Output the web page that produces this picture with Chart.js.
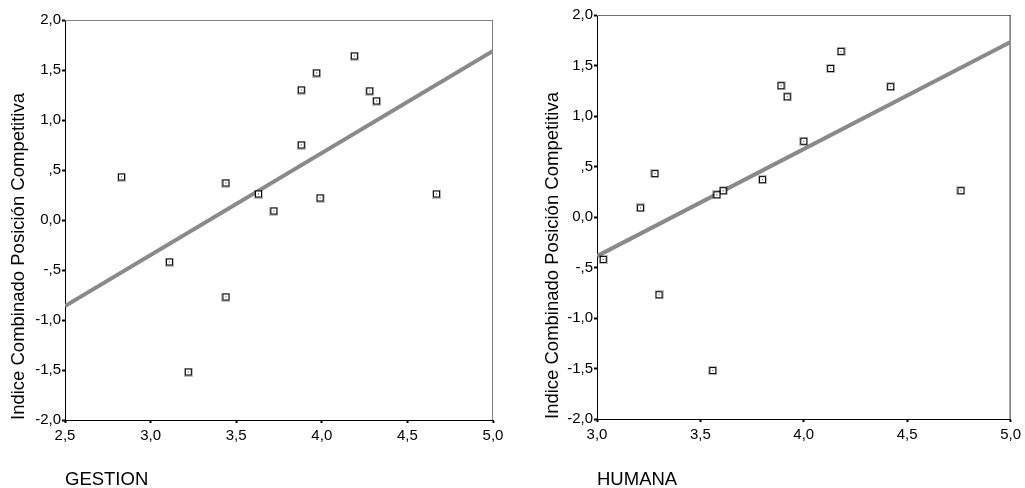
<!DOCTYPE html>
<html lang="es">
<head>
<meta charset="utf-8">
<title>Indice Combinado Posición Competitiva</title>
<script src="https://cdn.jsdelivr.net/npm/chart.js@4.4.1/dist/chart.umd.min.js"></script>
<style>
  html, body { margin: 0; padding: 0; background: #fff; }
  #wrap { position: relative; width: 1025px; height: 488px; overflow: hidden; }
  canvas { position: absolute; top: 0; }
  #cvGestion { left: 0; }
  #cvHumana { left: 512px; }
</style>
</head>
<body>
<div id="wrap">
  <canvas id="cvGestion" width="512" height="488"></canvas>
  <canvas id="cvHumana" width="513" height="488"></canvas>
</div>
<script>
// Índice combinado de posición competitiva por caso
const indice  = [0.43, -0.42, -1.52, 0.37, -0.77, 0.26, 0.09, 1.30, 0.75, 1.47, 0.22, 1.64, 1.29, 1.19, 0.26];
// Puntuaciones de cada caso en las dos dimensiones
const gestion = [2.83, 3.11, 3.22, 3.44, 3.44, 3.63, 3.72, 3.88, 3.88, 3.97, 3.99, 4.19, 4.28, 4.32, 4.67];
const humana  = [3.28, 3.03, 3.56, 3.80, 3.30, 3.61, 3.21, 3.89, 4.00, 4.13, 3.58, 4.18, 4.42, 3.92, 4.76];

const yTicks = [-2, -1.5, -1, -0.5, 0, 0.5, 1, 1.5, 2];
const gestionTicks = [2.5, 3.0, 3.5, 4.0, 4.5, 5.0];
const humanaTicks = [3.0, 3.5, 4.0, 4.5, 5.0];
const yTitle = 'Indice Combinado Posición Competitiva';

const FONT = "'Liberation Sans', Arial, Helvetica, sans-serif";

// 1,5  ,5  0,0  -,5  -1,0 ...
function fmt(v) {
    let s = v.toFixed(1).replace('.', ',');
    if (v !== 0 && Math.abs(v) < 1) s = s.replace('0,', ',');
    return s;
}

// least squares fit y = a + b*x
function fitLine(xs, ys) {
    const n = xs.length;
    const mx = xs.reduce((a, b) => a + b, 0) / n;
    const my = ys.reduce((a, b) => a + b, 0) / n;
    let sxy = 0, sxx = 0;
    for (let i = 0; i < n; i++) {
        sxy += (xs[i] - mx) * (ys[i] - my);
        sxx += (xs[i] - mx) * (xs[i] - mx);
    }
    const b = sxy / sxx;
    return { a: my - b * mx, b: b };
}

// small open square with a dot in the middle
function boxMarker() {
    const c = document.createElement('canvas');
    c.width = 9; c.height = 9;
    const g = c.getContext('2d');
    g.fillStyle = '#fff';
    g.fillRect(1, 1, 7, 7);
    g.strokeStyle = 'rgba(0,0,0,0.25)';
    g.lineWidth = 1;
    g.strokeRect(0.5, 0.5, 8, 8);
    g.strokeStyle = '#000';
    g.strokeRect(1.5, 1.5, 6, 6);
    g.fillStyle = '#333';
    g.fillRect(4, 4, 1, 1);
    return c;
}
const marker = boxMarker();

// top / right frame of the plot area
const framePlugin = {
    id: 'frame',
    beforeDatasetsDraw(chart, args, opts) {
        const { ctx, chartArea: a } = chart;
        ctx.save();
        ctx.lineWidth = 1;
        ctx.strokeStyle = opts.top;
        ctx.beginPath();
        ctx.moveTo(a.left, a.top + 0.5);
        ctx.lineTo(a.right, a.top + 0.5);
        ctx.stroke();
        ctx.strokeStyle = opts.right;
        ctx.beginPath();
        ctx.moveTo(a.right - 0.5, a.top);
        ctx.lineTo(a.right - 0.5, a.bottom);
        ctx.stroke();
        ctx.restore();
    }
};

function makeChart(id, xs, xTicks, xName, geo) {
    const fit = fitLine(xs, indice);
    const x0 = xTicks[0], x1 = xTicks[xTicks.length - 1];
    const points = xs.map((x, i) => ({ x: x, y: indice[i] }));
    const line = [{ x: x0, y: fit.a + fit.b * x0 }, { x: x1, y: fit.a + fit.b * x1 }];

    return new Chart(document.getElementById(id), {
        type: 'scatter',
        data: {
            datasets: [{
                data: points,
                pointStyle: marker,
                pointRadius: 4
            }, {
                data: line,
                showLine: true,
                pointRadius: 0,
                borderColor: '#8a8a8a',
                borderWidth: 4
            }]
        },
        options: {
            responsive: false,
            animation: false,
            events: [],
            layout: { padding: { top: geo.top, right: geo.right, left: 0, bottom: 0 } },
            plugins: {
                legend: { display: false },
                tooltip: { enabled: false },
                frame: { top: geo.frameTop, right: geo.frameRight }
            },
            scales: {
                x: {
                    type: 'linear',
                    min: x0,
                    max: x1,
                    afterBuildTicks: s => { s.ticks = xTicks.map(v => ({ value: v })); },
                    afterFit: s => { s.height = geo.xHeight; },
                    border: { color: '#000', width: 1 },
                    grid: { drawOnChartArea: false, tickLength: 3, tickWidth: 2, tickColor: '#000' },
                    ticks: {
                        color: '#000',
                        padding: 4,
                        maxRotation: 0,
                        font: { family: FONT, size: 15 },
                        callback: v => fmt(v)
                    },
                    title: {
                        display: true,
                        text: xName,
                        align: 'start',
                        color: '#000',
                        padding: 0,
                        font: { family: FONT, size: 18.5, lineHeight: 0.9 }
                    }
                },
                y: {
                    type: 'linear',
                    min: -2,
                    max: 2,
                    afterBuildTicks: s => { s.ticks = yTicks.map(v => ({ value: v })); },
                    afterFit: s => { s.width = geo.yWidth; },
                    border: { color: '#000', width: 1 },
                    grid: { drawOnChartArea: false, tickLength: 3, tickWidth: 2, tickColor: '#000' },
                    ticks: {
                        color: '#000',
                        padding: 1,
                        font: { family: FONT, size: 15 },
                        callback: v => fmt(v)
                    },
                    title: {
                        display: true,
                        text: yTitle,
                        align: 'start',
                        color: '#000',
                        padding: { top: geo.titlePad, bottom: 0 },
                        font: { family: FONT, size: 18.5 }
                    }
                }
            }
        },
        plugins: [framePlugin]
    });
}

makeChart('cvGestion', gestion, gestionTicks, 'GESTION',
    { top: 20, right: 19, xHeight: 68, yWidth: 65, titlePad: 8, frameTop: '#808080', frameRight: '#808080' });
makeChart('cvHumana', humana, humanaTicks, 'HUMANA',
    { top: 15, right: 13, xHeight: 69, yWidth: 85, titlePad: 30, frameTop: '#707070', frameRight: '#303030' });
</script>
</body>
</html>
